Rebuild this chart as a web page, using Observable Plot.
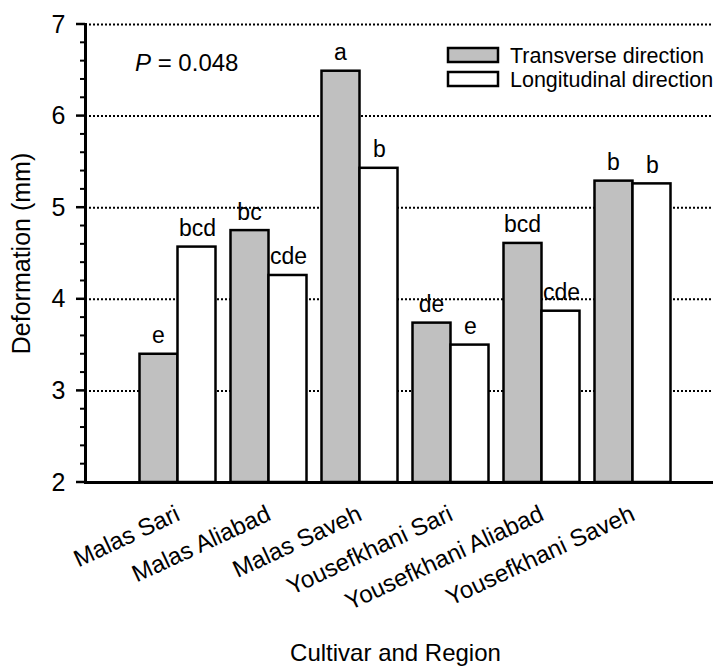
<!DOCTYPE html>
<html>
<head>
<meta charset="utf-8">
<script src="https://cdn.jsdelivr.net/npm/d3@7"></script>
<script src="https://cdn.jsdelivr.net/npm/@observablehq/plot@0.6"></script>
<style>
  html, body { margin: 0; padding: 0; background: #fff; }
  #chart { width: 713px; height: 666px; }
</style>
</head>
<body>
<div id="chart"></div>
<script>
const categories = ["Malas Sari", "Malas Aliabad", "Malas Saveh", "Yousefkhani Sari", "Yousefkhani Aliabad", "Yousefkhani Saveh"];
const series = ["Transverse direction", "Longitudinal direction"];
const transverse = [3.40, 4.75, 6.49, 3.74, 4.61, 5.29];
const longitudinal = [4.57, 4.26, 5.43, 3.50, 3.87, 5.26];
const transverseLetters = ["e", "bc", "a", "de", "bcd", "b"];
const longitudinalLetters = ["bcd", "cde", "b", "e", "cde", "b"];
const yTicks = [2, 3, 4, 5, 6, 7];
const seriesFill = ["#c0c0c0", "#ffffff"];
const pText = "0.048";

const yDomain = [2, 7];
const minorTicks = d3.range(yDomain[0], yDomain[1] + 1e-9, 0.2).filter(v => Math.abs(v - Math.round(v)) > 1e-6);

const tData = categories.map((c, i) => ({cat: c, value: transverse[i], letter: transverseLetters[i]}));
const lData = categories.map((c, i) => ({cat: c, value: longitudinal[i], letter: longitudinalLetters[i]}));

const font = "Arial, 'Liberation Sans', sans-serif";
const W = 713, H = 666, mL = 85, mT = 24, mB = 184, mR = 0;
const bandStart = 131.5, bandEnd = 677.5;
const outer = 7.5, half = 45.5;

const plot = Plot.plot({
  width: W, height: H,
  marginLeft: mL, marginRight: mR, marginTop: mT, marginBottom: mB,
  style: {fontFamily: font, fontSize: "23px", color: "#000", background: "#fff"},
  x: {type: "band", domain: categories, range: [bandStart, bandEnd], padding: 0},
  y: {domain: yDomain},
  marks: [
    Plot.ruleY(yTicks.slice(1), {stroke: "#000", strokeWidth: 2, strokeDasharray: "2,2"}),
    Plot.barY(tData, {x: "cat", y1: () => yDomain[0], y2: "value", fill: seriesFill[0], stroke: "#000", strokeWidth: 2.5, insetLeft: outer, insetRight: half}),
    Plot.barY(lData, {x: "cat", y1: () => yDomain[0], y2: "value", fill: seriesFill[1], stroke: "#000", strokeWidth: 2.5, insetLeft: half, insetRight: outer}),
    Plot.text(tData, {x: "cat", y: "value", text: "letter", dx: -(half - outer) / 2 - 0.5, dy: -11, lineAnchor: "bottom", fontSize: 23}),
    Plot.text(lData, {x: "cat", y: "value", text: "letter", dx: (half - outer) / 2 + 0.5, dy: -11, lineAnchor: "bottom", fontSize: 23}),
    Plot.ruleY([yDomain[0]], {stroke: "#000", strokeWidth: 3}),
    Plot.frame({anchor: "left", stroke: "#000", strokeWidth: 3}),
    Plot.axisY({ticks: yTicks, tickSize: 0, tickPadding: 20, tickFormat: d => String(d), fontSize: 25,
      label: "Deformation (mm)", labelAnchor: "center", labelArrow: "none", labelOffset: 73}),
    Plot.axisX({tickSize: 0, tickRotate: -25, tickPadding: 30, fontSize: 24, label: null}),
    Plot.text(["Cultivar and Region"], {frameAnchor: "bottom", lineAnchor: "middle", dx: -4, dy: 171, fontSize: 24})
  ]
});

document.getElementById("chart").appendChild(plot);

const svg = d3.select(plot);
const yScale = plot.scale("y");

// y-axis tick marks (major and minor), positioned by Plot's y scale
const tg = svg.append("g").attr("stroke", "#000");
minorTicks.forEach(v => {
  const py = yScale.apply(v);
  tg.append("line").attr("x1", mL - 5).attr("x2", mL).attr("y1", py).attr("y2", py).attr("stroke-width", 2);
});
yTicks.forEach(v => {
  const py = yScale.apply(v);
  tg.append("line").attr("x1", mL - 9).attr("x2", mL).attr("y1", py).attr("y2", py).attr("stroke-width", 2.5);
});

// annotation
const pt = svg.append("text").attr("x", 135).attr("y", 71).attr("text-anchor", "start")
  .attr("font-family", font).attr("font-size", 24).attr("fill", "#000");
pt.append("tspan").attr("font-style", "italic").text("P");
pt.append("tspan").text(" = " + pText);

// legend
const lg = svg.append("g").attr("text-anchor", "start");
series.forEach((s, i) => {
  lg.append("rect").attr("x", 448).attr("y", 48 + i * 24).attr("width", 50).attr("height", 14)
    .attr("fill", seriesFill[i]).attr("stroke", "#000").attr("stroke-width", 2.5);
  lg.append("text").attr("x", 510).attr("y", 55 + i * 24).attr("dy", "0.35em").attr("text-anchor", "start")
    .attr("font-family", font).attr("font-size", 21.5).attr("fill", "#000").text(s);
});
</script>
</body>
</html>
